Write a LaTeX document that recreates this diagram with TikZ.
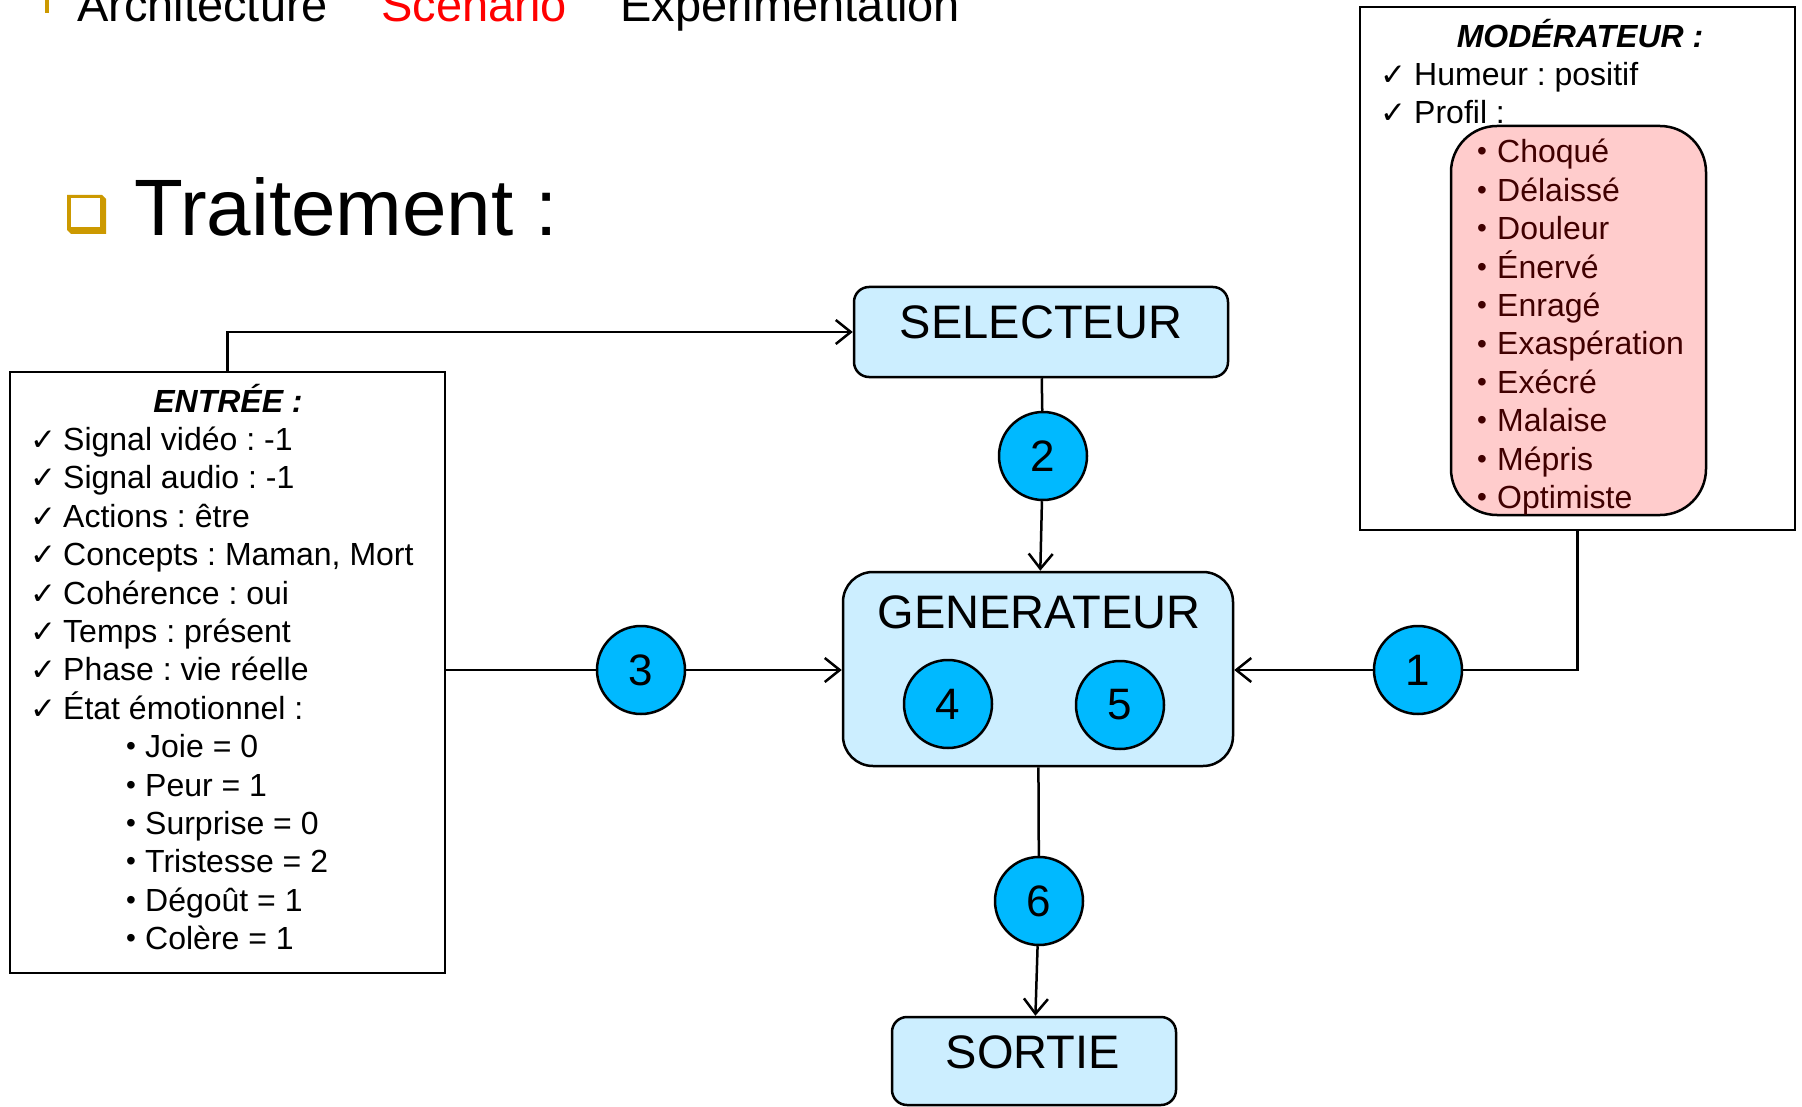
\documentclass[tikz,border=0pt]{standalone}
\usepackage{fontspec}
\setmainfont{Liberation Sans}
\newfontfamily\checkfont{DejaVu Sans}
\usetikzlibrary{arrows.meta}

\definecolor{boxblue}{RGB}{204,238,255}
\definecolor{dotblue}{RGB}{0,185,255}
\definecolor{rosefill}{RGB}{255,204,204}
\definecolor{rosetext}{RGB}{64,0,0}
\definecolor{bulletgold}{RGB}{204,153,0}
\definecolor{tabred}{RGB}{255,0,0}

\newcommand\setfs[1]{\fontsize{#1}{#1}\selectfont}
\frenchspacing

\begin{document}
\begin{tikzpicture}[x=1pt,y=-1pt,
  txt/.style={anchor=base west, inner sep=0pt, font=\setfs{32}},
  dot/.style={anchor=base west, inner sep=0pt, font=\setfs{28}},
  ttl/.style={anchor=base, inner sep=0pt, font=\setfs{32}\bfseries\itshape},
  tick/.style={anchor=base west, inner sep=0pt, font=\checkfont\setfs{31}},
  stage/.style={draw, fill=boxblue, line width=2.5pt, inner sep=0pt},
  stagetext/.style={anchor=base, inner sep=0pt, font=\setfs{47}},
  listbox/.style={draw, line width=2.5pt, inner sep=0pt},
  num/.style={circle, draw, fill=dotblue, line width=2.5pt, minimum size=88pt,
              inner sep=0pt, font=\setfs{44}},
  link/.style={line width=2.5pt},
  arr/.style={link, -{Straight Barb[length=15pt,width=24pt]}}]

\useasboundingbox (0,0) rectangle (1802,1107);
\fill[white] (0,0) rectangle (1802,1107);

% navigation bar
\fill[bulletgold] (45,0) rectangle (49,13);
\node[anchor=base west, inner sep=0pt, font=\setfs{47}] (tabarch) at (77,22) {Architecture};
\node[anchor=base west, inner sep=0pt, font=\setfs{47}, text=tabred] (tabscen) at (381,22) {Scenario};
\node[anchor=base west, inner sep=0pt, font=\setfs{47}] (tabexp) at (620,22) {Experimentation};

% heading with square bullet
\fill[bulletgold] (67,195) -- (102,195) -- (106,199) -- (106,234) -- (71,234) -- (67,230) -- cycle;
\fill[white] (71,198) rectangle (100,227);
\node[anchor=base west, inner sep=0pt, font=\setfs{80}] (heading) at (134,236) {Traitement :};

% input box
\node[listbox, minimum width=435pt, minimum height=601pt] (entree) at (227.5,672.5) {};
\node[ttl] (entreetitle) at (228,412) {ENTRÉE :};
\foreach \t [count=\k] in {Signal vidéo : -1, Signal audio : -1, Actions : être,
    {Concepts : Maman, Mort}, Cohérence : oui, Temps : présent,
    Phase : vie réelle, État émotionnel :} {
  \node[tick] (echk\k) at (30,412+38.4*\k) {✓};
  \node[txt] (eitem\k) at (63,412+38.4*\k) {\t};
}
\foreach \t [count=\k from 9] in {Joie = 0, Peur = 1, Surprise = 0,
    Tristesse = 2, Dégoût = 1, Colère = 1} {
  \node[dot] (edot\k) at (126,410+38.4*\k) {•};
  \node[txt] (eitem\k) at (145,412+38.4*\k) {\t};
}

% moderator box
\node[listbox, minimum width=435pt, minimum height=523pt] (moder) at (1577.5,268.5) {};
\node[ttl] (modertitle) at (1580,48) {MODÉRATEUR :};
\node[tick] (mchk1) at (1380,86) {✓};
\node[txt] (mitem1) at (1414,86) {Humeur : positif};
\node[tick] (mchk2) at (1380,124) {✓};
\node[txt] (mitem2) at (1414,124) {Profil :};
\node[draw, fill=rosefill, line width=2.5pt, rounded corners=46pt,
      minimum width=255pt, minimum height=389pt, inner sep=0pt] (profil) at (1578.5,320.5) {};
\foreach \t [count=\k from 0] in {Choqué, Délaissé, Douleur, Énervé, Enragé,
    Exaspération, Exécré, Malaise, Mépris, Optimiste} {
  \node[dot, text=rosetext] (pdot\k) at (1477,161+38.4*\k) {•};
  \node[txt, text=rosetext] (pitem\k) at (1497,163+38.4*\k) {\t};
}

% processing stages
\node[stage, rounded corners=15pt, minimum width=374pt, minimum height=90pt] (sel) at (1041,332) {};
\node[stagetext] (seltext) at (1041,338) {SELECTEUR};
\node[stage, rounded corners=30pt, minimum width=390pt, minimum height=194pt] (gen) at (1038,669) {};
\node[stagetext] (gentext) at (1039,628) {GENERATEUR};
\node[stage, rounded corners=15pt, minimum width=284pt, minimum height=88pt] (sortie) at (1034,1061) {};
\node[stagetext] (sortietext) at (1033,1068) {SORTIE};

% numbered steps
\node[num] (c1) at (1418,670) {1};
\node[num] (c2) at (1043,456) {2};
\node[num] (c3) at (641,670) {3};
\node[num] (c4) at (948,704) {4};
\node[num] (c5) at (1120,705) {5};
\node[num] (c6) at (1039,901) {6};

% connectors
\draw[arr] (entree.north) |- (sel.west);
\draw[link] (sel) -- (c2);
\draw[arr] (c2) -- (gen);
\draw[link] (c3 -| entree.east) -- (c3);
\draw[arr] (c3) -- (c3 -| gen.west);
\draw[link] (moder.south) |- (c1);
\draw[arr] (c1) -- (c1 -| gen.east);
\draw[link] (gen) -- (c6);
\draw[arr] (c6) -- (sortie);
\end{tikzpicture}
\end{document}
